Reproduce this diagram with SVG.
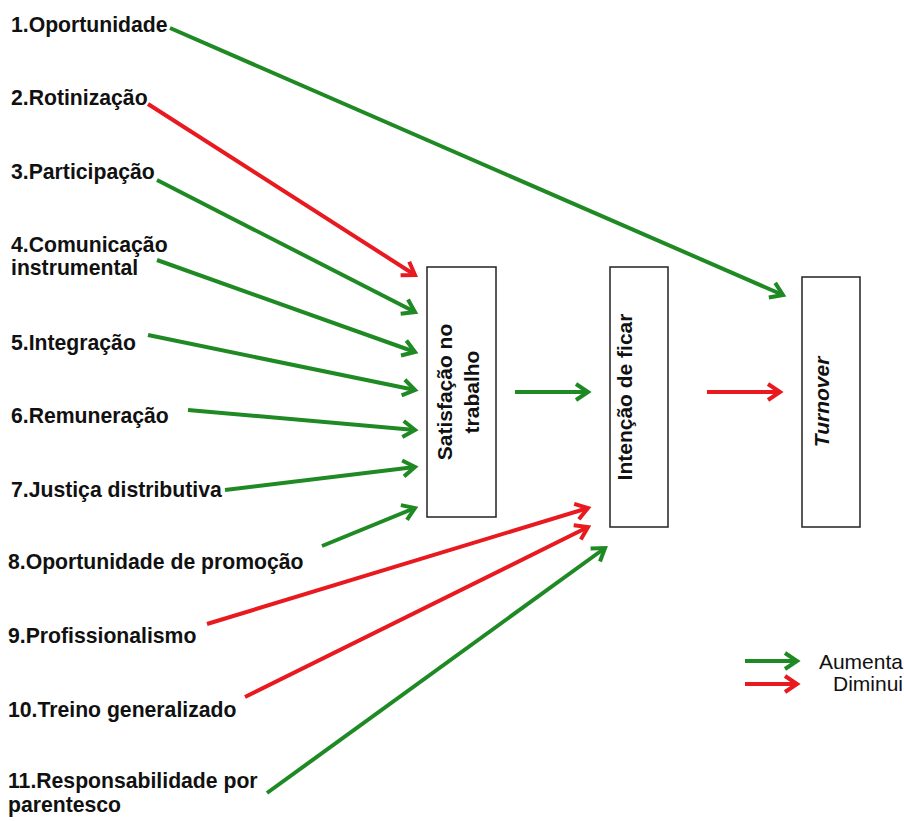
<svg xmlns="http://www.w3.org/2000/svg" width="904" height="821" viewBox="0 0 904 821">
<style>
.lbl{font-family:"Liberation Sans",Arial,sans-serif;font-weight:bold;font-size:21.2px;fill:#111}
.box{fill:#fff;stroke:#222;stroke-width:1.5}
.bt{font-family:"Liberation Sans",Arial,sans-serif;font-weight:bold;font-size:21px;fill:#111;text-anchor:middle}
.leg{font-family:"Liberation Sans",Arial,sans-serif;font-size:21px;fill:#111;text-anchor:end}
.g{stroke:#1f8a24;stroke-width:4;fill:none;marker-end:url(#ag)}
.r{stroke:#e8191f;stroke-width:4;fill:none;marker-end:url(#ar)}
</style>
<defs>
<marker id="ag" markerUnits="userSpaceOnUse" viewBox="-16 -10 20 20" refX="0" refY="0" markerWidth="20" markerHeight="20" orient="auto"><path d="M-12,-8 L0,0 L-12,8" fill="none" stroke="#1f8a24" stroke-width="4"/></marker>
<marker id="ar" markerUnits="userSpaceOnUse" viewBox="-16 -10 20 20" refX="0" refY="0" markerWidth="20" markerHeight="20" orient="auto"><path d="M-12,-8 L0,0 L-12,8" fill="none" stroke="#e8191f" stroke-width="4"/></marker>
</defs>
<rect width="904" height="821" fill="#fff"/>
<g id="connectors">
<line class="g" x1="170" y1="28" x2="783" y2="295"/>
<line class="r" x1="148" y1="104" x2="415" y2="275"/>
<line class="g" x1="157" y1="180" x2="415" y2="312"/>
<line class="g" x1="157" y1="260" x2="415" y2="352"/>
<line class="g" x1="148" y1="335" x2="415" y2="390"/>
<line class="g" x1="188" y1="410" x2="415" y2="430"/>
<line class="g" x1="225" y1="490" x2="415" y2="467"/>
<line class="g" x1="322" y1="546" x2="415" y2="508"/>
<line class="r" x1="207" y1="624" x2="588" y2="508"/>
<line class="r" x1="245" y1="697" x2="588" y2="527"/>
<line class="g" x1="267" y1="793" x2="605" y2="548"/>
<line class="g" x1="515" y1="392" x2="588" y2="392"/>
<line class="r" x1="707" y1="392" x2="780" y2="392"/>
</g>
<g id="n1"><text class="lbl" x="11" y="32">1.Oportunidade</text></g>
<g id="n2"><text class="lbl" x="11" y="105">2.Rotinização</text></g>
<g id="n3"><text class="lbl" x="11" y="179">3.Participação</text></g>
<g id="n4"><text class="lbl" x="11" y="252">4.Comunicação</text><text class="lbl" x="11" y="275">instrumental</text></g>
<g id="n5"><text class="lbl" x="11" y="350">5.Integração</text></g>
<g id="n6"><text class="lbl" x="11" y="423">6.Remuneração</text></g>
<g id="n7"><text class="lbl" x="11" y="497">7.Justiça distributiva</text></g>
<g id="n8"><text class="lbl" x="8" y="569">8.Oportunidade de promoção</text></g>
<g id="n9"><text class="lbl" x="8" y="643">9.Profissionalismo</text></g>
<g id="n10"><text class="lbl" x="8" y="717">10.Treino generalizado</text></g>
<g id="n11"><text class="lbl" x="8" y="788">11.Responsabilidade por</text><text class="lbl" x="8" y="812">parentesco</text></g>
<g id="satisfacao"><rect class="box" x="427" y="267" width="69" height="250"/>
<text class="bt" transform="translate(452,392) rotate(-90)">Satisfação no</text>
<text class="bt" transform="translate(479,392) rotate(-90)">trabalho</text></g>
<g id="intencao"><rect class="box" x="610" y="267" width="58" height="260"/>
<text class="bt" transform="translate(632,397) rotate(-90)">Intenção de ficar</text></g>
<g id="turnover"><rect class="box" x="802" y="277" width="58" height="250"/>
<text class="bt" font-style="italic" transform="translate(829,402) rotate(-90)">Turnover</text></g>
<g id="legend">
<line class="g" x1="745" y1="661" x2="797" y2="661"/>
<line class="r" x1="745" y1="684" x2="797" y2="684"/>
<text class="leg" x="903" y="669">Aumenta</text>
<text class="leg" x="903" y="691">Diminui</text>
</g>
</svg>
